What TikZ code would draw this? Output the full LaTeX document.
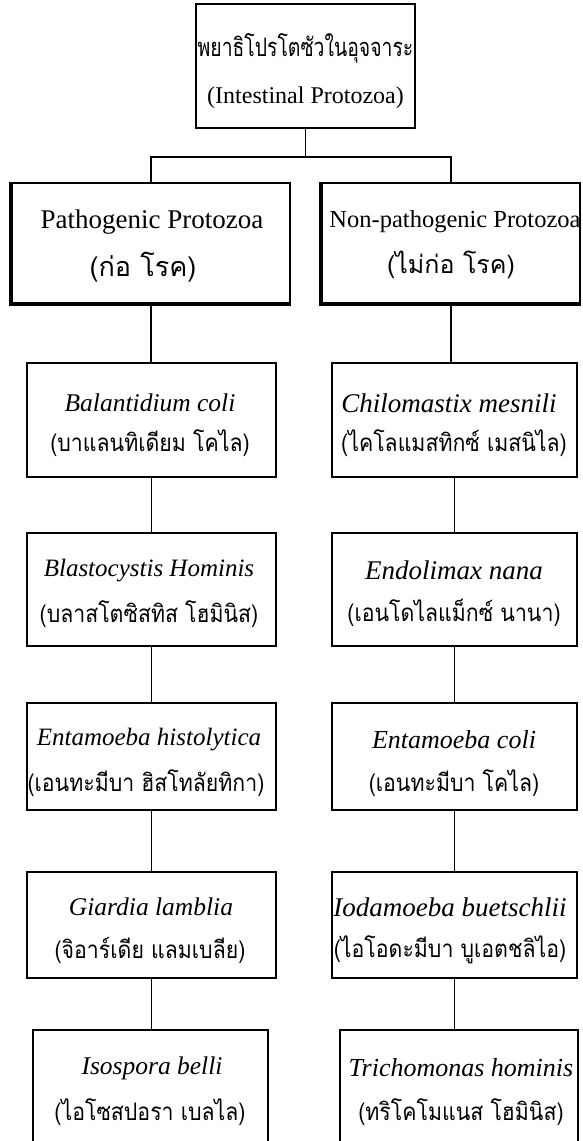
\documentclass[tikz,border=0pt]{standalone}
\usepackage{fontspec}
\setmainfont{Liberation Serif}
\newfontfamily\thai[Script=Thai]{Loma}
\newfontfamily\thaic[Script=Thai,FakeStretch=0.88]{Loma}
\newfontfamily\thait[Script=Thai,FakeStretch=0.76]{Loma}
\begin{document}
\begin{tikzpicture}[x=1pt,y=-1pt,
  box/.style={draw, line width=1.8pt, inner sep=0pt},
  txt/.style={inner sep=0pt, align=center, font=\fontsize{25.5}{43}\selectfont},
  th/.style={font=\thaic\fontsize{24.2}{43}\selectfont},
  lbox/.style={box, minimum width=249pt},
  rbox/.style={box, minimum width=245pt},
  conn/.style={line width=1.8pt},
  heavy/.style={line width=4pt}
]
\clip (0,0) rectangle (582,1141);
\fill[white] (0,0) rectangle (582,1141);

% top
\node[box, minimum width=219pt, minimum height=124pt] (top) at (305.5,66) {};
\node[txt, font=\thait\fontsize{25.5}{50}\selectfont] (topa) at (305.5,48) {พยาธิโปรโตซัวในอุจจาระ};
\node[txt, font=\fontsize{24}{50}\selectfont] (topb) at (305.5,98) {(Intestinal Protozoa)};

% categories
\node[box, minimum width=278pt, minimum height=120pt] (pl) at (151,243) {};
\node[box, minimum width=258pt, minimum height=120pt] (pr) at (451,243) {};
\draw[heavy] (pl.north west) -- (pl.south west) -- (pl.south east);
\draw[heavy] (pr.north west) -- (pr.south west) -- (pr.south east);
\node[txt, font=\fontsize{27}{46}\selectfont] (pla) at (152,222) {Pathogenic Protozoa};
\node[txt, font=\thai\fontsize{27}{46}\selectfont] (plb) at (143,267) {(ก่อ โรค)};
\node[txt, font=\fontsize{24.5}{46}\selectfont] (pra) at (455,222) {Non-pathogenic Protozoa};
\node[txt, font=\thai\fontsize{25}{46}\selectfont] (prb) at (451,265) {(ไม่ก่อ โรค)};

\coordinate (j) at (305.5,157);
\draw[conn] (top.south) -- (j);
\draw[conn] (pl.north) |- (j);
\draw[conn] (j) -| (pr.north);

% left column boxes
\node[lbox, minimum height=114pt] (l2) at (151.5,420) {};
\node[lbox, minimum height=113pt] (l3) at (151.5,589.5) {};
\node[lbox, minimum height=107pt] (l4) at (151.5,756.5) {};
\node[lbox, minimum height=106pt] (l5) at (151.5,925) {};
\node[box, minimum width=235pt, minimum height=130pt] (l6) at (150.5,1095) {};
% right column boxes
\node[rbox, minimum height=114pt] (r2) at (454.5,420) {};
\node[rbox, minimum height=113pt] (r3) at (454.5,589.5) {};
\node[rbox, minimum height=107pt] (r4) at (454.5,756.5) {};
\node[rbox, minimum height=106pt] (r5) at (454.5,925) {};
\node[box, minimum width=238pt, minimum height=130pt] (r6) at (459,1095) {};

% left column texts
\node[txt, font=\itshape\fontsize{25.5}{43}\selectfont] (l2a) at (150,403) {Balantidium coli};
\node[txt, th] (l2b) at (150,443) {(บาแลนทิเดียม โคไล)};
\node[txt, font=\itshape\fontsize{25}{43}\selectfont] (l3a) at (149,571) {Blastocystis Hominis};
\node[txt, th] (l3b) at (149,614) {(บลาสโตซิสทิส โฮมินิส)};
\node[txt, font=\itshape\fontsize{25}{43}\selectfont] (l4a) at (149,740) {Entamoeba histolytica};
\node[txt, th] (l4b) at (146,783) {(เอนทะมีบา ฮิสโทลัยทิกา)};
\node[txt, font=\itshape\fontsize{25.5}{43}\selectfont] (l5a) at (151,907) {Giardia lamblia};
\node[txt, th] (l5b) at (150,950) {(จิอาร์เดีย แลมเบลีย)};
\node[txt, font=\itshape\fontsize{25.5}{43}\selectfont] (l6a) at (152,1068) {Isospora belli};
\node[txt, th] (l6b) at (150,1112) {(ไอโซสปอรา เบลไล)};

% right column texts
\node[txt, font=\itshape\fontsize{27}{43}\selectfont] (r2a) at (449,403) {Chilomastix mesnili};
\node[txt, th] (r2b) at (454,443) {(ไคโลแมสทิกซ์ เมสนิไล)};
\node[txt, font=\itshape\fontsize{27}{43}\selectfont] (r3a) at (454,570) {Endolimax nana};
\node[txt, th] (r3b) at (454,613) {(เอนโดไลแม็กซ์ นานา)};
\node[txt, font=\itshape\fontsize{26}{43}\selectfont] (r4a) at (454,740) {Entamoeba coli};
\node[txt, th] (r4b) at (454,783) {(เอนทะมีบา โคไล)};
\node[txt, font=\itshape\fontsize{27}{43}\selectfont] (r5a) at (450,907) {Iodamoeba buetschlii};
\node[txt, th] (r5b) at (450,950) {(ไอโอดะมีบา บูเอตชลิไอ)};
\node[txt, font=\itshape\fontsize{26}{43}\selectfont] (r6a) at (461,1068) {Trichomonas hominis};
\node[txt, th] (r6b) at (461,1112) {(ทริโคโมแนส โฮมินิส)};

% connectors
\draw[conn] (pl.south) -- (pl.south |- l2.north);
\draw[conn] (l2.south) -- (l2.south |- l3.north);
\draw[conn] (l3.south) -- (l3.south |- l4.north);
\draw[conn] (l4.south) -- (l4.south |- l5.north);
\draw[conn] (l5.south) -- (l5.south |- l6.north);
\draw[conn] (pr.south) -- (pr.south |- r2.north);
\draw[conn] (r2.south) -- (r2.south |- r3.north);
\draw[conn] (r3.south) -- (r3.south |- r4.north);
\draw[conn] (r4.south) -- (r4.south |- r5.north);
\draw[conn] (r5.south) -- (r5.south |- r6.north);
\end{tikzpicture}
\end{document}
